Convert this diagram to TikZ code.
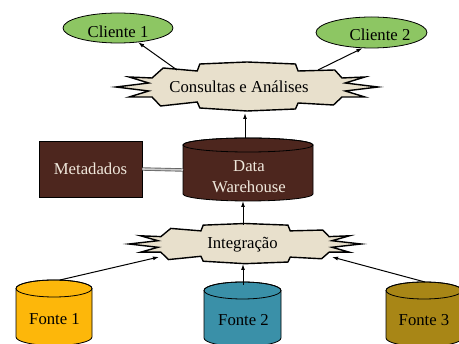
\documentclass[tikz,border=0pt]{standalone}
\usepackage{fontspec}
\setmainfont{Liberation Serif}
\usetikzlibrary{arrows.meta,calc,shapes.geometric}

\definecolor{clientgreen}{RGB}{141,198,99}
\definecolor{burstfill}{RGB}{232,224,204}
\definecolor{dwbrown}{RGB}{77,38,30}
\definecolor{dwtext}{RGB}{240,232,220}
\definecolor{srcyellow}{RGB}{253,183,10}
\definecolor{srcteal}{RGB}{58,144,168}
\definecolor{srcolive}{RGB}{168,134,22}

% cylinder: #1 name, #2 centre x, #3 top y, #4 base centre y, #5 x radius, #6 y radius, #7 fill
\newcommand\drum[7]{%
  \filldraw[drumline, fill=#7] (#2-#5,#3+#6) -- (#2-#5,#4)
    arc[start angle=180, end angle=0, x radius=#5, y radius=#6]
    -- (#2+#5,#3+#6)
    arc[start angle=0, end angle=-180, x radius=#5, y radius=#6] -- cycle;
  \draw[drumline] (#2,#3+#6) ellipse[x radius=#5, y radius=#6];
  \coordinate (#1) at (#2,#3);
}

% explosion outline: #1 centre x, #2 centre y, #3 half width, #4 half height
\newcommand\burst[4]{%
  \begin{scope}[shift={(#1,#2)}, xscale=#3, yscale=#4]
    \filldraw[burstline]
      (-0.64,-0.76) -- (-0.38,-0.64) -- (-0.36,-0.92) -- (0,-1)
      -- (0.37,-0.92) -- (0.39,-0.64) -- (0.67,-0.68)
      -- (0.725,-0.36) -- (0.90,-0.40) -- (0.75,-0.16) -- (1,0)
      -- (0.75,0.16) -- (0.90,0.40) -- (0.725,0.40) -- (0.66,0.72)
      -- (0.39,0.64) -- (0.37,0.88) -- (0,0.96) -- (-0.36,0.84)
      -- (-0.38,0.60) -- (-0.66,0.76)
      -- (-0.725,0.40) -- (-0.90,0.40) -- (-0.75,0.16) -- (-1,0)
      -- (-0.75,-0.16) -- (-0.90,-0.40) -- (-0.725,-0.36) -- cycle;
  \end{scope}
}

\begin{document}
\begin{tikzpicture}[x=1pt, y=-1pt,
    font=\fontsize{16.7}{21}\selectfont,
    drumline/.style={draw=black, line width=0.8pt},
    burstline/.style={fill=burstfill, draw=black, line width=1.4pt, line join=miter},
    client/.style={ellipse, draw=black, line width=0.8pt, fill=clientgreen,
      minimum width=#1, minimum height=30pt, inner sep=0pt},
    darkbox/.style={rectangle, draw=black, line width=0.6pt, fill=dwbrown,
      text=dwtext, minimum width=103pt, minimum height=56pt, inner sep=0pt},
    arr/.style={-{Latex[length=6pt, width=4pt]}, line width=1pt},
    dbl/.style={draw=black!60, double=black!20, double distance=1.6pt, line width=0.9pt},
    lbl/.style={inner sep=0pt}]

  \useasboundingbox (0,0) rectangle (459,344);
  \fill[white] (0,0) rectangle (459,344);
  \clip (0,0) rectangle (459,344);

  % clients
  \node[client=110pt] (cli1) at (118,28) {};
  \node[lbl] at ($(cli1)+(0,3.5)$) {Cliente 1};
  \node[client=111pt, minimum height=31pt] (cli2) at (371.5,32.5) {};
  \node[lbl] at ($(cli2)+(8.5,2.5)$) {Cliente 2};

  % query layer
  \burst{247}{87}{131}{25}
  \node[lbl] (cons) at (239,87) {Consultas e Análises};
  \coordinate (cons-nw) at (177,70);
  \coordinate (cons-ne) at (318,70);
  \coordinate (cons-s) at (245,113);

  % warehouse and metadata
  \node[darkbox] (meta) at (90.5,169) {Metadados};
  \drum{dw-top}{248}{138}{194}{65}{7}{dwbrown}
  \node[lbl, align=center, text=dwtext] (dw) at (249,176.5) {Data\\Warehouse};
  \coordinate (dw-n) at (245,138);
  \coordinate (dw-s) at (243,201);
  \coordinate (dw-w) at (183,170);

  % integration layer
  \burst{245}{244}{116}{20.5}
  \node[lbl] (integ) at (242.5,245) {Integração};
  \coordinate (int-n) at (243,225);
  \coordinate (int-sw) at (159,257);
  \coordinate (int-se) at (332,257);
  \coordinate (int-s) at (243,264);

  % sources
  \drum{f1}{54}{280}{337}{38}{8.5}{srcyellow}
  \node[lbl] at (54.5,319) {Fonte 1};
  \drum{f2}{242.5}{282}{338}{38.5}{8.5}{srcteal}
  \node[lbl] at (243.5,320.5) {Fonte 2};
  \drum{f3}{424}{282}{338}{38}{8.5}{srcolive}
  \node[lbl] at (424,320.5) {Fonte 3};
  \coordinate (f1-n) at (60,280);
  \coordinate (f2-n) at (243,285);
  \coordinate (f3-n) at (425,282);

  % connectors
  \draw[arr] (cons-nw) -- (cli1);
  \draw[arr] (cons-ne) -- (cli2.240);
  \draw[arr] (dw-n) -- (cons-s);
  \draw[dbl] (meta.east) -- (dw-w);
  \draw[arr] (int-n) -- (dw-s);
  \draw[arr] (f1-n) -- (int-sw);
  \draw[arr] (f2-n) -- (int-s);
  \draw[arr] (f3-n) -- (int-se);
\end{tikzpicture}
\end{document}
